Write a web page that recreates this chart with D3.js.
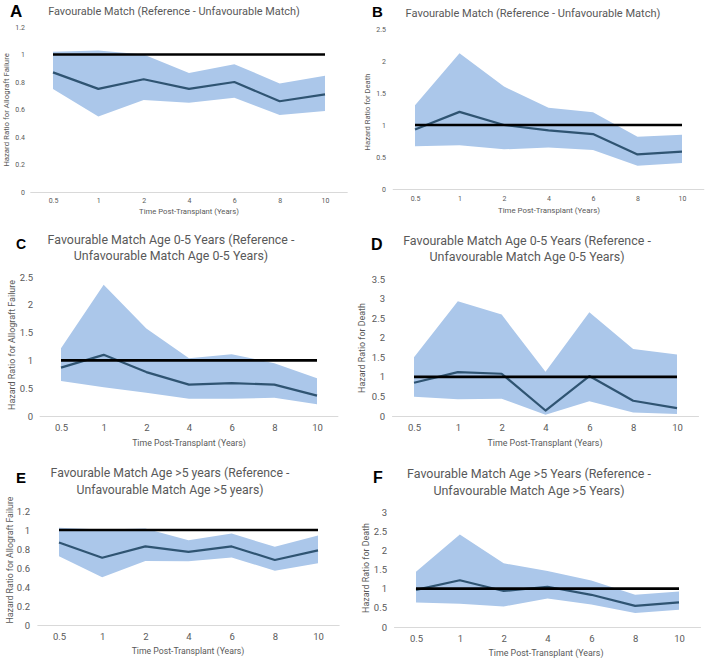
<!DOCTYPE html>
<html><head><meta charset="utf-8">
<script src="https://cdn.jsdelivr.net/npm/d3@7"></script>
<style>
html,body{margin:0;padding:0;background:#fff;}
svg{display:block;}
text{font-family:Roboto,"Open Sans",sans-serif;}
</style></head>
<body>
<svg id="c" width="708" height="661"></svg>
<script>
const categories = ["0.5","1","2","4","6","8","10"];

const aMean  = [0.87,0.75,0.82,0.75,0.80,0.66,0.71];
const aUpper = [1.02,1.03,1.00,0.866,0.93,0.79,0.846];
const aLower = [0.75,0.55,0.67,0.65,0.685,0.56,0.59];

const bMean  = [0.93,1.205,1.0,0.916,0.858,0.54,0.584];
const bUpper = [1.31,2.12,1.6,1.27,1.2,0.816,0.847];
const bLower = [0.668,0.684,0.62,0.65,0.61,0.363,0.405];

const cMean  = [0.87,1.10,0.79,0.565,0.59,0.565,0.367];
const cUpper = [1.22,2.36,1.575,1.04,1.11,0.95,0.68];
const cLower = [0.63,0.517,0.42,0.31,0.31,0.33,0.21];

const dMean  = [0.85,1.12,1.08,0.14,1.02,0.39,0.20];
const dUpper = [1.5,2.93,2.59,1.13,2.65,1.71,1.57];
const dLower = [0.49,0.43,0.44,0.03,0.38,0.09,0.05];

const eMean  = [0.868,0.708,0.827,0.77,0.827,0.684,0.785];
const eUpper = [1.025,1.005,1.015,0.893,0.963,0.823,0.942];
const eLower = [0.725,0.502,0.673,0.67,0.71,0.572,0.649];

const fMean  = [0.97,1.22,0.94,1.05,0.84,0.55,0.64];
const fUpper = [1.44,2.41,1.66,1.46,1.21,0.84,0.925];
const fLower = [0.64,0.605,0.536,0.743,0.588,0.363,0.45];

const referenceValue = 1;

const ticksFailure12 = [0,0.2,0.4,0.6,0.8,1,1.2];
const ticks25 = [0,0.5,1,1.5,2,2.5];
const ticks35 = [0,0.5,1,1.5,2,2.5,3,3.5];
const ticks3 = [0,0.5,1,1.5,2,2.5,3];

const panels = [
  {letter:"A", title:["Favourable Match (Reference - Unfavourable Match)"], yTitle:"Hazard Ratio for Allograft Failure",
   mean:aMean, upper:aUpper, lower:aLower, ticks:ticksFailure12,
   xc:[53,325], y0:192, yTop:27, lblR:25, tickY:201, tickFs:7, titleW:252, titleX:174, titleY:[15],
   letX:10, letY:17, letFs:17, xtX:189, xtY:214, xtW:100, ytX:9, ytY:110, ytW:114},
  {letter:"B", title:["Favourable Match (Reference - Unfavourable Match)"], yTitle:"Hazard Ratio for Death",
   mean:bMean, upper:bUpper, lower:bLower, ticks:ticks25,
   xc:[415,682], y0:189, yTop:29, lblR:386, tickY:199, tickFs:7, titleW:255, titleX:533, titleY:[17],
   letX:372, letY:17, letFs:15, xtX:549, xtY:213, xtW:102, ytX:370, ytY:112, ytW:77},
  {letter:"C", title:["Favourable Match Age 0-5 Years (Reference -","Unfavourable Match Age 0-5 Years)"], yTitle:"Hazard Ratio for Allograft Failure",
   mean:cMean, upper:cUpper, lower:cLower, ticks:ticks25,
   xc:[61,317], y0:416, yTop:277, lblR:33, tickY:428, tickFs:9.5, titleW:247, titleX:171, titleY:[244,260],
   letX:16, letY:249, letFs:14, xtX:189, xtY:446, xtW:114, ytX:15, ytY:345, ytW:130},
  {letter:"D", title:["Favourable Match Age 0-5 Years (Reference -","Unfavourable Match Age 0-5 Years)"], yTitle:"Hazard Ratio for Death",
   mean:dMean, upper:dUpper, lower:dLower, ticks:ticks35,
   xc:[414,677], y0:416, yTop:279, lblR:385, tickY:428, tickFs:9.5, titleW:248, titleX:527, titleY:[245,261],
   letX:371, letY:250, letFs:16, xtX:545, xtY:446, xtW:115, ytX:365, ytY:348, ytW:90},
  {letter:"E", title:["Favourable Match Age >5 years (Reference -","Unfavourable Match Age >5 years)"], yTitle:"Hazard Ratio for Allograft Failure",
   mean:eMean, upper:eUpper, lower:eLower, ticks:ticksFailure12,
   xc:[59,318], y0:625, yTop:511, lblR:30, tickY:637, tickFs:9.5, titleW:239, titleX:170, titleY:[477,494],
   letX:16, letY:483, letFs:15, xtX:188, xtY:654, xtW:113, ytX:13, ytY:560, ytW:127},
  {letter:"F", title:["Favourable Match Age >5 Years (Reference -","Unfavourable Match Age >5 Years)"], yTitle:"Hazard Ratio for Death",
   mean:fMean, upper:fUpper, lower:fLower, ticks:ticks3,
   xc:[416,679], y0:627, yTop:512, lblR:387, tickY:639, tickFs:9.5, titleW:244, titleX:529, titleY:[478,495],
   letX:373, letY:483, letFs:16, xtX:546, xtY:656, xtW:115, ytX:369, ytY:568, ytW:90}
];

const svg = d3.select("#c");
const grey = "#595959";

function fit(sel, target) {
  const base = 10;
  sel.style("font-size", base + "px");
  const w = sel.node().getComputedTextLength();
  const fs = base * target / w;
  sel.style("font-size", fs + "px");
  return fs;
}

panels.forEach(p => {
  const g = svg.append("g");
  const x = d3.scalePoint().domain(categories).range(p.xc);
  const step = x.step();
  const yMax = p.ticks[p.ticks.length-1];
  const y = d3.scaleLinear().domain([0,yMax]).range([p.y0,p.yTop]);
  const rows = categories.map((c,i)=>({c, m:p.mean[i], u:p.upper[i], l:p.lower[i]}));

  g.append("path").datum(rows)
    .attr("d", d3.area().x(d=>x(d.c)).y0(d=>y(d.l)).y1(d=>y(d.u)))
    .attr("fill","#abc7ea");

  const xa = g.append("g").attr("transform",`translate(0,${p.y0})`)
    .call(d3.axisBottom(x).tickSize(0).tickPadding(0));
  xa.select(".domain").remove();
  xa.selectAll("text").attr("y", p.tickY - p.y0).attr("dy","0.35em")
    .attr("fill",grey).style("font-size",p.tickFs+"px").style("font-family","Roboto,sans-serif");
  g.append("line").attr("x1",p.xc[0]-step/2).attr("x2",p.xc[1]+step/2)
    .attr("y1",p.y0+0.5).attr("y2",p.y0+0.5).attr("stroke","#d9d9d9").attr("stroke-width",1);

  const ya = g.append("g").attr("transform",`translate(${p.lblR},0)`)
    .call(d3.axisLeft(y).tickValues(p.ticks).tickSize(0).tickPadding(0).tickFormat(d3.format("")));
  ya.select(".domain").remove();
  ya.selectAll("text").attr("fill",grey).style("font-size",p.tickFs+"px").style("font-family","Roboto,sans-serif");

  g.append("path").datum(rows)
    .attr("d", d3.line().x(d=>x(d.c)).y(d=>y(d.m)))
    .attr("fill","none").attr("stroke","#2f5472").attr("stroke-width",2.2).attr("stroke-linejoin","round");

  g.append("path").datum(rows)
    .attr("d", d3.line().x(d=>x(d.c)).y(()=>y(referenceValue)))
    .attr("fill","none").attr("stroke","#000").attr("stroke-width",2.6);

  let tfs = null;
  p.title.forEach((t,i)=>{
    const tt = g.append("text").attr("x",p.titleX).attr("y",p.titleY[i]).attr("text-anchor","middle")
      .attr("fill",grey).text(t);
    if (i === 0) tfs = fit(tt, p.titleW); else tt.style("font-size", tfs + "px");
  });
  g.append("text").attr("x",p.letX).attr("y",p.letY)
    .style("font-family","'Liberation Sans',Arial,sans-serif").style("font-weight","bold")
    .style("font-size",p.letFs+"px").attr("fill","#000").text(p.letter);
  const xt = g.append("text").attr("x",p.xtX).attr("y",p.xtY).attr("text-anchor","middle")
    .attr("fill",grey).text("Time Post-Transplant (Years)");
  fit(xt, p.xtW);
  const yt = g.append("text").attr("transform",`translate(${p.ytX},${p.ytY}) rotate(-90)`).attr("text-anchor","middle")
    .attr("fill",grey).text(p.yTitle);
  fit(yt, p.ytW);
});
</script>
</body></html>
